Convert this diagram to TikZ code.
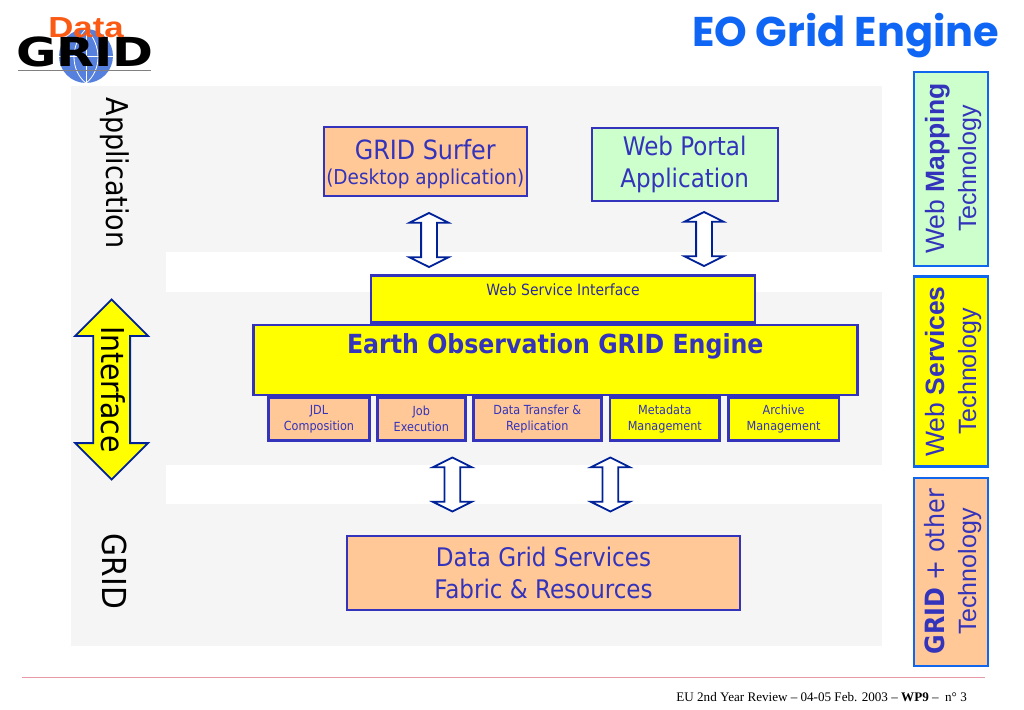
\documentclass[tikz,border=0pt]{standalone}
\usepackage{fontspec}
\setmainfont{Liberation Serif}
\newfontfamily\tahomafont{DejaVu Sans Condensed}
\newfontfamily\arialfont{Liberation Sans}
\newfontfamily\comicfont{Poppins}
\usetikzlibrary{shapes.arrows}
\definecolor{panelgray}{HTML}{F5F5F6}
\definecolor{peach}{HTML}{FFC896}
\definecolor{mint}{HTML}{CCFFCC}
\definecolor{vivid}{HTML}{FFFF00}
\definecolor{linkblue}{HTML}{3333BB}
\definecolor{navyline}{HTML}{002299}
\definecolor{skyline}{HTML}{1166EE}
\definecolor{titleblue}{HTML}{0F66F5}
\definecolor{rulepink}{HTML}{E89AA8}
\definecolor{globeblue}{HTML}{5580DD}
\definecolor{dataorange}{HTML}{FA5A14}
\newcommand{\techline}{\fontsize{26.5}{32}\selectfont\rule{0pt}{24pt}}
\tikzset{
  box/.style = {draw=linkblue, line width=2.4pt, inner sep=0pt, align=center, text=linkblue, font=\tahomafont},
  bigbox/.style = {box, font=\tahomafont\fontsize{25.6}{32}\selectfont},
  subbox/.style = {box, minimum height=43, font=\tahomafont\fontsize{12.5}{16}\selectfont},
  techbox/.style = {draw=skyline, line width=2.4pt, rotate=90, inner sep=0pt, minimum height=74, align=center, text=linkblue,
    font=\arialfont\fontsize{25}{32}\selectfont},
  linkarrow/.style = {draw=navyline, fill=white, line width=1.8pt, shape=double arrow, rotate=90, inner sep=7pt,
    minimum height=54, double arrow head extend=11.5pt, double arrow tip angle=127},
  sidelabel/.style = {rotate=-90, font=\tahomafont\fontsize{30}{30}\selectfont}
}

\begin{document}
\begin{tikzpicture}[x=1pt,y=-1pt]
    \useasboundingbox (0,0) rectangle (1024,709);
    \fill[panelgray] (71,86) rectangle (882,646);
    \fill[white] (166,252) rectangle (882,291.5);
    \fill[white] (166,464.5) rectangle (882,504);

    \node (globe) [circle,fill=globeblue,minimum size=54,inner sep=0pt] at (86,56) {};
    \draw[white,thick] (globe.north) .. controls (70,45) and (70,70) .. (globe.south);
    \draw[white,thick] (globe.north) .. controls (102,45) and (102,70) .. (globe.south);
    \draw[white,thick] (globe.north) -- (globe.south);
    \draw[white,thick] (globe.west) -- (globe.east);
    \node (gridlogo) [xscale=1.37,font=\tahomafont\bfseries\fontsize{40}{40}\selectfont] at (85,52) {GRID};
    \node (datalogo) [text=dataorange,font=\arialfont\bfseries\fontsize{29}{29}\selectfont,xscale=1.2] at (86,28) {Data};
    \coordinate (logoleft) at (18,69.7);
    \coordinate (logoright) at (151,69.7);
    \draw[gray] (logoleft) -- (logoright);

    \node (title) [text=titleblue,font=\comicfont\bfseries\fontsize{41.5}{41.5}\selectfont,anchor=east] at (1002.5,36) {EO Grid Engine};

    \node (application) [sidelabel] at (115,173) {Application};
    \node (gridside) [sidelabel,font=\tahomafont\fontsize{33}{33}\selectfont] at (115,571.5) {GRID};
    \node (interface) [draw=navyline,fill=vivid,line width=1.8pt,shape=double arrow,rotate=-90,minimum height=180,
      double arrow head extend=18pt,double arrow tip angle=90,inner xsep=0pt,inner ysep=4pt,text height=24pt,text depth=3pt,
      font=\tahomafont\fontsize{31.5}{31.5}\selectfont] at (111.7,389.5) {Interface};

    \node (surfer) [bigbox,fill=peach,minimum width=203,minimum height=69,font=\tahomafont\fontsize{26.5}{25}\selectfont] at (425.3,161.3)
      {\rule{0pt}{25pt}GRID Surfer\\{\fontsize{20.5}{25}\selectfont (Desktop application)}};
    \node (portal) [bigbox,fill=mint,minimum width=186,minimum height=73] at (684.7,164.3) {Web Portal\\Application};

    \node (wsi) [box,fill=vivid,minimum width=384,inner ysep=3pt,text height=17pt,text depth=24pt,
      font=\tahomafont\fontsize{15.5}{18}\selectfont,text=linkblue!85!black] at (563,299) {Web Service Interface};

    \node (jdl) [subbox,fill=peach,minimum width=101] at (319,419) {JDL\\Composition};
    \node (job) [subbox,fill=peach,minimum width=88] at (421.3,419) {Job\\Execution};
    \node (transfer) [subbox,fill=peach,minimum width=128] at (537.3,419) {Data Transfer \&\\Replication};
    \node (metadata) [subbox,fill=vivid,minimum width=109.5] at (664.8,419) {Metadata\\Management};
    \node (archive) [subbox,fill=vivid,minimum width=110.5] at (783.6,419) {Archive\\Management};

    \node (engine) [box,fill=vivid,minimum width=604,inner ysep=3pt,text height=25pt,text depth=39pt,
      font=\tahomafont\bfseries\fontsize{26.3}{30}\selectfont] at (555.3,360) {Earth Observation GRID Engine};

    \node (services) [bigbox,fill=peach,minimum width=393,minimum height=74] at (543.5,573) {Data Grid Services\\Fabric \& Resources};

    \node (surferlink) [linkarrow] at (429,240) {};
    \node (portallink) [linkarrow] at (704,239) {};
    \node (jobslink) [linkarrow] at (452.3,484.5) {};
    \node (datalink) [linkarrow] at (610.3,484.5) {};

    \node (mapping) [techbox,fill=mint,minimum width=194] at (950.8,168.7)
      {{\techline Web \textbf{Mapping}}\\Technology};
    \node (webservices) [techbox,fill=vivid,minimum width=190] at (950.8,371.5)
      {{\techline Web \textbf{Services}}\\Technology};
    \node (gridother) [techbox,fill=peach,minimum width=188] at (950.8,571.7)
      {{\techline\tahomafont \textbf{GRID} + other}\\Technology};

    \coordinate (ruleleft) at (22,677.5);
    \coordinate (ruleright) at (985,677.5);
    \draw[rulepink,line width=1pt] (ruleleft) -- (ruleright);
    \node (footer) [anchor=east,font=\fontsize{13.1}{16}\selectfont,inner sep=0pt] at (967,697)
      {EU 2nd Year Review -- 04-05 Feb. 2003 -- \textbf{WP9} --~ n° 3};
\end{tikzpicture}
\end{document}
